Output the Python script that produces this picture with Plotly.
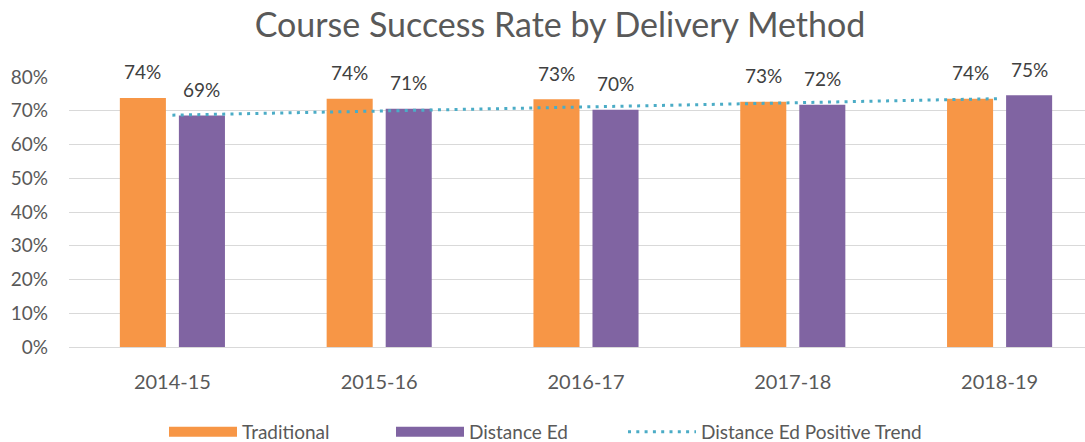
import plotly.graph_objects as go

# ---- data ----
years = ["2014-15", "2015-16", "2016-17", "2017-18", "2018-19"]
traditional = [0.738, 0.736, 0.734, 0.727, 0.736]
distance_ed = [0.686, 0.706, 0.703, 0.718, 0.746]
trend_years = ["2014-15", "2018-19"]
trend_values = [0.687, 0.736]
y_ticks = [0.0, 0.1, 0.2, 0.3, 0.4, 0.5, 0.6, 0.7, 0.8]

ORANGE = "#F79646"
PURPLE = "#8064A2"
TEAL = "#4BACC6"
FONT = "Lato"
TXT = "#595959"
LBL = "#404040"

W, H = 1085, 442

fig = go.Figure()
fig.add_bar(x=years, y=traditional, name="Traditional", marker_color=ORANGE,
            marker_line_width=0, showlegend=False, legendgroup="t")
fig.add_bar(x=years, y=distance_ed, name="Distance Ed", marker_color=PURPLE,
            marker_line_width=0, showlegend=False, legendgroup="d")
# legend proxies (wide swatches)
fig.add_scatter(x=[None], y=[None], mode="lines", name="Traditional",
                line=dict(color=ORANGE, width=14), legendgroup="t", legendrank=1)
fig.add_scatter(x=[None], y=[None], mode="lines", name="Distance Ed",
                line=dict(color=PURPLE, width=14), legendgroup="d", legendrank=2)
fig.add_scatter(x=trend_years, y=trend_values, mode="lines",
                name="Distance Ed Positive Trend", legend="legend2",
                line=dict(color=TEAL, width=3, dash="3px,5.3px"))

for i, yr in enumerate(years):
    fig.add_annotation(x=yr, y=traditional[i], text=f"{traditional[i]:.0%}",
                       xshift=-29.5, yshift=26, yanchor="middle", showarrow=False,
                       font=dict(family=FONT, size=19, color=LBL))
    fig.add_annotation(x=yr, y=distance_ed[i], text=f"{distance_ed[i]:.0%}",
                       xshift=29.5, yshift=26, yanchor="middle", showarrow=False,
                       font=dict(family=FONT, size=19, color=LBL))

legend_font = dict(family=FONT, size=19, color=TXT)
leg_y = 1 - 432 / H

fig.update_layout(
    width=W, height=H,
    margin=dict(l=69, r=0, t=77, b=95),
    paper_bgcolor="white", plot_bgcolor="white",
    barmode="group", bargap=0.429, bargroupgap=0.22,
    font=dict(family=FONT, size=19, color=TXT),
    title=dict(text="Course Success Rate by Delivery Method",
               font=dict(family=FONT, size=34, color=TXT),
               x=560 / W, xref="container", xanchor="center",
               y=1 - 25 / H, yref="container", yanchor="middle"),
    xaxis=dict(range=[-0.5, 4.413], showgrid=False, showline=False, ticks="",
               tickfont=dict(family=FONT, size=20, color=TXT),
               ticklabelstandoff=21),
    yaxis=dict(range=[0, 0.8001], tickvals=y_ticks, tickformat=".0%",
               showgrid=True, gridcolor="#D9D9D9", gridwidth=1.3,
               zeroline=True, zerolinecolor="#D9D9D9", zerolinewidth=1.3,
               showline=False, ticks="",
               tickfont=dict(family=FONT, size=19, color=TXT),
               ticklabelstandoff=20),
    legend=dict(orientation="h", xref="container", yref="container",
                x=(169 - 5) / W, xanchor="left", y=leg_y, yanchor="middle",
                itemwidth=68, entrywidth=144,
                font=legend_font, bgcolor="rgba(0,0,0,0)"),
    legend2=dict(orientation="h", xref="container", yref="container",
                 x=(628 - 5) / W, xanchor="left", y=leg_y, yanchor="middle",
                 itemwidth=68,
                 font=legend_font, bgcolor="rgba(0,0,0,0)"),
)

# remove the browser's default 8px body margin so the figure fills the window
fig.write_html("out.html",
               config={"displayModeBar": False},
               post_script="document.body.style.margin='0px';document.body.style.overflow='hidden';")
